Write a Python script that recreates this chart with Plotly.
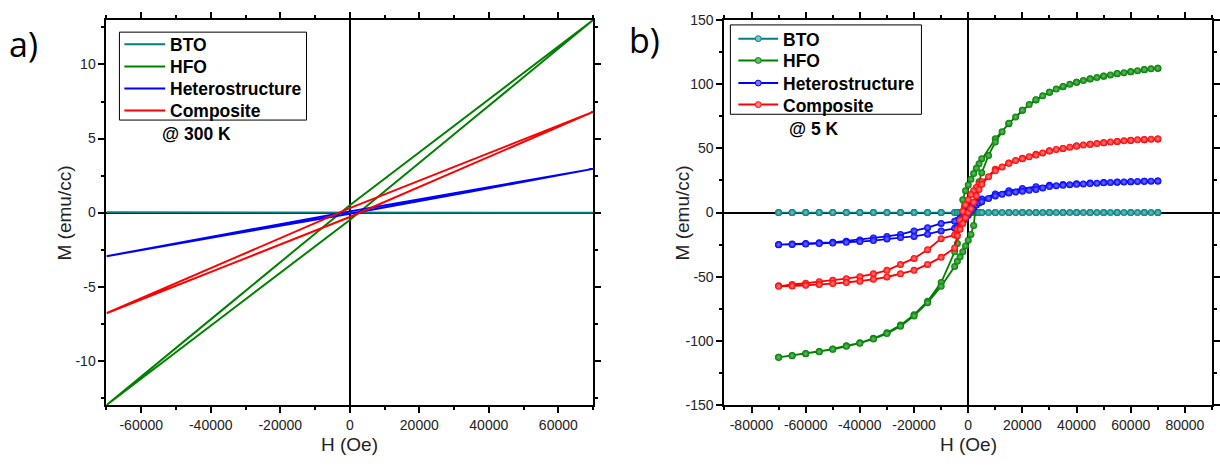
import plotly.graph_objects as go

# ---------------- data : panel a) @ 300 K (linear loops) ----------------
H_300 = [70000, 35000, 0, -35000, -70000, -35000, 0, 35000, 70000]
BTO_300 = [-0.02, -0.01, 0.0, 0.01, 0.02, 0.01, 0.0, -0.01, -0.02]
HFO_300 = [13.0, 6.75, 0.5, -6.25, -13.0, -6.75, -0.5, 6.25, 13.0]
HET_300 = [2.95, 1.5, 0.08, -1.43, -2.95, -1.5, -0.08, 1.43, 2.95]
COMP_300 = [6.8, 3.55, 0.3, -3.25, -6.8, -3.55, -0.3, 3.25, 6.8]

# ---------------- data : panel b) @ 5 K (hysteresis loops) ----------------
H_5K_desc = [70000, 65000, 60000, 55000, 50000, 45000, 40000, 35000, 30000, 25000,
             20000, 15000, 10000, 5000, 4000, 3000, 2000, 1000, 0, -1000, -2000,
             -3000, -4000, -5000, -10000, -15000, -20000, -25000, -30000, -35000,
             -40000, -45000, -50000, -55000, -60000, -65000, -70000]
H_5K_asc = [-70000, -65000, -60000, -55000, -50000, -45000, -40000, -35000, -30000,
            -25000, -20000, -15000, -10000, -5000, -4000, -3000, -2000, -1000, 0,
            1000, 2000, 3000, 4000, 5000, 7500, 10000, 12500, 15000, 17500, 20000,
            22500, 25000, 27500, 30000, 32500, 35000, 37500, 40000, 42500, 45000,
            47500, 50000, 52500, 55000, 57500, 60000, 62500, 65000, 67500, 70000]

BTO_5K_desc = [0.0, 0.0, 0.0, 0.0, 0.0, 0.0, 0.0, 0.0, 0.0, 0.0, 0.0, 0.0, 0.0,
               0.0, 0.0, 0.0, 0.0, 0.0, 0.0, 0.0, 0.0, 0.0, 0.0, 0.0, 0.0, 0.0,
               0.0, 0.0, 0.0, 0.0, 0.0, 0.0, 0.0, 0.0, 0.0, 0.0, 0.0]
BTO_5K_asc = [0.0, 0.0, 0.0, 0.0, 0.0, 0.0, 0.0, 0.0, 0.0, 0.0, 0.0, 0.0, 0.0,
              0.0, 0.0, 0.0, 0.0, 0.0, 0.0, 0.0, 0.0, 0.0, 0.0, 0.0, 0.0, 0.0,
              0.0, 0.0, 0.0, 0.0, 0.0, 0.0, 0.0, 0.0, 0.0, 0.0, 0.0, 0.0, 0.0,
              0.0, 0.0, 0.0, 0.0, 0.0, 0.0, 0.0, 0.0, 0.0, 0.0, 0.0]

HFO_5K_desc = [112.5, 111.3, 109.7, 108.2, 106.3, 104.0, 101.5, 98.0, 93.7, 87.7,
               79.7, 69.3, 57.5, 42.0, 38.0, 34.5, 30.5, 26.0, 21.5, 17.0, 10.0,
               -8.0, -24.0, -30.6, -54.5, -69.1, -79.6, -87.7, -93.7, -98.0,
               -101.5, -103.8, -106.3, -108.3, -109.8, -111.3, -112.8]
HFO_5K_asc = [-112.8, -111.5, -110.0, -108.5, -106.5, -104.2, -101.8, -98.5, -94.3,
              -88.5, -80.5, -70.2, -57.5, -42.0, -38.0, -34.5, -30.5, -26.0, -21.5,
              -17.0, -10.0, 8.0, 24.0, 31.0, 44.5, 55.0, 63.0, 69.6, 74.5, 79.8,
              84.2, 88.0, 91.0, 93.8, 96.2, 98.3, 100.0, 101.6, 102.9, 104.2,
              105.3, 106.4, 107.3, 108.3, 109.0, 109.8, 110.6, 111.4, 112.0, 112.5]

HET_5K_desc = [24.6, 24.4, 24.1, 23.8, 23.4, 23.0, 22.5, 21.9, 21.2, 20.2, 18.8,
               17.0, 14.5, 10.5, 9.5, 8.0, 6.5, 5.0, 3.0, 0.5, -2.5, -4.5, -6.0,
               -6.8, -8.5, -11.8, -14.3, -17.0, -18.6, -19.8, -21.3, -22.4, -23.2,
               -23.6, -24.1, -24.5, -24.9]
HET_5K_asc = [-25.0, -24.8, -24.5, -24.1, -23.7, -23.2, -22.6, -21.8, -20.5, -19.5,
              -18.6, -16.8, -14.3, -12.3, -11.0, -9.5, -7.5, -5.0, -2.0, 1.0, 4.0,
              6.0, 7.5, 8.5, 11.0, 13.0, 14.3, 15.3, 16.0, 16.6, 17.3, 18.0, 19.2,
              20.3, 20.9, 21.3, 21.7, 22.0, 22.3, 22.6, 22.9, 23.2, 23.5, 23.7,
              23.9, 24.1, 24.3, 24.4, 24.5, 24.6]

COMP_5K_desc = [57.3, 56.8, 56.2, 55.4, 54.4, 53.2, 51.8, 50.0, 48.2, 45.5, 42.3,
                38.6, 33.8, 24.0, 22.0, 19.5, 17.0, 14.0, 10.0, 6.0, 1.0, -6.0,
                -13.0, -17.5, -20.3, -28.9, -35.7, -40.4, -45.0, -47.7, -50.0,
                -51.5, -52.8, -54.0, -55.0, -56.0, -57.0]
COMP_5K_asc = [-57.5, -57.2, -56.7, -56.0, -55.3, -54.5, -53.5, -52.0, -50.2, -47.7,
               -45.0, -40.4, -34.9, -27.6, -18.0, -13.0, -8.5, -4.0, 0.0, 3.0, 8.0,
               13.0, 18.0, 22.0, 28.0, 32.5, 35.5, 38.4, 40.5, 42.0, 43.5, 44.9,
               46.5, 48.0, 49.2, 50.0, 51.0, 51.8, 52.6, 53.2, 53.8, 54.4, 55.0,
               55.4, 55.9, 56.3, 56.7, 57.0, 57.2, 57.4]

SERIES = ["BTO", "HFO", "Heterostructure", "Composite"]

# tick labels
XA_TICKS = [-60000, -40000, -20000, 0, 20000, 40000, 60000]
XA_TEXT = ["-60000", "-40000", "-20000", "0", "20000", "40000", "60000"]
YA_TICKS = [-10, -5, 0, 5, 10]
YA_TEXT = ["-10", "-5", "0", "5", "10"]
XB_TICKS = [-80000, -60000, -40000, -20000, 0, 20000, 40000, 60000, 80000]
XB_TEXT = ["-80000", "-60000", "-40000", "-20000", "0", "20000", "40000", "60000", "80000"]
YB_TICKS = [-150, -100, -50, 0, 50, 100, 150]
YB_TEXT = ["-150", "-100", "-50", "0", "50", "100", "150"]

# ---------------- styles ----------------
COLORS = ["#008080", "#008000", "#0000FF", "#FF0000"]
LIGHT = ["#7cc4c4", "#6cbc6c", "#7a7aff", "#ff8a8a"]
FONT = "Liberation Sans, Arial, sans-serif"
W, Hh = 1220, 472

fig = go.Figure()

left_sets = [BTO_300, HFO_300, HET_300, COMP_300]
for name, m, c in zip(SERIES, left_sets, COLORS):
    fig.add_trace(go.Scatter(x=H_300, y=m, mode="lines", name=name,
                             line=dict(color=c, width=2),
                             xaxis="x", yaxis="y", showlegend=False))

right_sets = [(BTO_5K_desc, BTO_5K_asc), (HFO_5K_desc, HFO_5K_asc),
              (HET_5K_desc, HET_5K_asc), (COMP_5K_desc, COMP_5K_asc)]
for name, (md, ma), c, lc in zip(SERIES, right_sets, COLORS, LIGHT):
    fig.add_trace(go.Scatter(x=H_5K_desc + H_5K_asc, y=md + ma,
                             mode="lines+markers", name=name,
                             line=dict(color=c, width=1.8),
                             marker=dict(size=7, color=c, symbol="circle",
                                         gradient=dict(type="radial", color=lc),
                                         line=dict(width=0)),
                             xaxis="x2", yaxis="y2", showlegend=False))


def axis(domain, rng, tickvals, ticktext, minor_dtick, anchor):
    return dict(domain=domain, range=rng, anchor=anchor,
                tickmode="array", tickvals=tickvals, ticktext=ticktext,
                showline=True, linecolor="black", linewidth=2,
                mirror="allticks", ticks="outside", ticklen=6, tickwidth=1.5,
                tickcolor="black", showgrid=False,
                zeroline=True, zerolinecolor="black", zerolinewidth=1.5,
                tickfont=dict(family=FONT, size=14, color="#222"),
                minor=dict(ticks="outside", ticklen=3, tickwidth=1.5,
                           tickcolor="black", dtick=minor_dtick, tick0=0),
                fixedrange=True)


ydom = [1 - 411 / Hh, 1 - 12.5 / Hh]

fig.update_layout(
    width=W, height=Hh, autosize=False,
    margin=dict(l=0, r=0, t=0, b=0),
    paper_bgcolor="white", plot_bgcolor="white",
    xaxis=axis([107 / W, 596 / W], [-70000, 70000], XA_TICKS, XA_TEXT, 10000, "y"),
    yaxis=axis(ydom, [-13, 13], YA_TICKS, YA_TEXT, 2.5, "x"),
    xaxis2=axis([728 / W, 1218 / W], [-90000, 90000], XB_TICKS, XB_TEXT, 10000, "y2"),
    yaxis2=axis(ydom, [-150, 150], YB_TICKS, YB_TEXT, 25, "x2"),
    showlegend=False,
)


def px(x):
    return x / W


def py(y):
    return 1 - y / Hh


def ann(text, x, y, size, bold=False, angle=0, xanchor="center",
        family=FONT, color="#222"):
    fig.add_annotation(text=("<b>%s</b>" % text) if bold else text,
                       x=px(x), y=py(y), xref="paper", yref="paper",
                       showarrow=False, textangle=angle, xanchor=xanchor,
                       yanchor="middle",
                       font=dict(family=family, size=size, color=color))


def legend_box(x0, y0, x1, y1, rows, lx0, lx1, tx, with_markers):
    fig.add_shape(type="rect", xref="paper", yref="paper",
                  x0=px(x0), x1=px(x1), y0=py(y1), y1=py(y0),
                  line=dict(color="black", width=1), fillcolor="white",
                  layer="above")
    for name, c, lc, yy in zip(SERIES, COLORS, LIGHT, rows):
        fig.add_shape(type="line", xref="paper", yref="paper",
                      x0=px(lx0), x1=px(lx1), y0=py(yy), y1=py(yy),
                      line=dict(color=c, width=2), layer="above")
        if with_markers:
            xm = (lx0 + lx1) / 2
            r = 3
            fig.add_shape(type="circle", xref="paper", yref="paper",
                          x0=px(xm - r), x1=px(xm + r), y0=py(yy + r), y1=py(yy - r),
                          line=dict(color=c, width=1), fillcolor=lc, layer="above")
        ann(name, tx, yy + 1, 17.5, bold=True, xanchor="left", color="black")


legend_box(120, 25, 308, 116, [37.5, 60.5, 83.3, 106], 125, 166, 169, False)
legend_box(734, 17.5, 926, 110, [31.7, 54.3, 77.7, 100], 742, 782, 785, True)

ann("a)", 7, 37, 34, xanchor="left", family="Open Sans, sans-serif", color="black")
ann("b)", 630, 33, 34, xanchor="left", family="Open Sans, sans-serif", color="black")
ann("@ 300 K", 161, 130, 17.5, bold=True, xanchor="left", color="black")
ann("@ 5 K", 791, 125, 17.5, bold=True, xanchor="left", color="black")
ann("M (emu/cc)", 65, 212, 19, angle=-90)
ann("H (Oe)", 351, 452, 19)
ann("M (emu/cc)", 686, 212, 19, angle=-90)
ann("H (Oe)", 973, 452, 19)

fig.write_html("out.html")
